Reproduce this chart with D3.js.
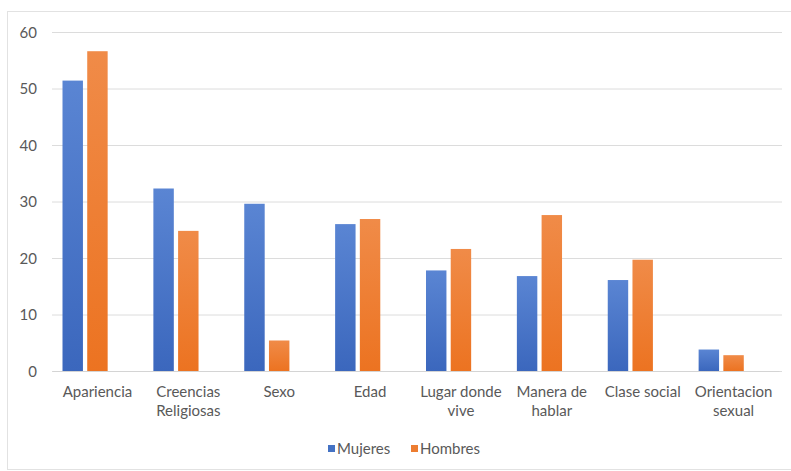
<!DOCTYPE html>
<html>
<head>
<meta charset="utf-8">
<script src="https://cdn.jsdelivr.net/npm/d3@7"></script>
<style>
  html, body { margin: 0; padding: 0; background: #fff; }
  svg { display: block; }
  text { font-family: Lato, "Open Sans", sans-serif; fill: #595959; }
</style>
</head>
<body>
<svg id="chart" width="791" height="471"></svg>
<script>
const categories = [
  ["Apariencia"],
  ["Creencias", "Religiosas"],
  ["Sexo"],
  ["Edad"],
  ["Lugar donde", "vive"],
  ["Manera de", "hablar"],
  ["Clase social"],
  ["Orientacion", "sexual"]
];
const seriesNames = ["Mujeres", "Hombres"];
const mujeres = [51.4, 32.3, 29.6, 26.0, 17.8, 16.8, 16.1, 3.8];
const hombres = [56.6, 24.8, 5.4, 26.9, 21.6, 27.6, 19.7, 2.8];
const yTicks = [0, 10, 20, 30, 40, 50, 60];
const colors = ["#4472C4", "#ED7D31"];

const svg = d3.select("#chart");
const W = 791, H = 471;
const m = { left: 52, right: 12, top: 32, bottom: 100 };
const FS = 15;

// chart border
svg.append("rect").attr("x", 7.5).attr("y", 11.5).attr("width", W - 7).attr("height", H - 13)
  .attr("fill", "none").attr("stroke", "#e2e2e2").attr("stroke-width", 1);

const keys = categories.map(c => c.join(" "));
const x0 = d3.scaleBand().domain(keys).range([m.left, W - m.right]).paddingInner(0).paddingOuter(0);
// third slot is an empty (hidden) series slot, as in the original chart
const x1 = d3.scaleBand().domain([...seriesNames, "_"]).range([10.5, x0.bandwidth() - 10.5]).paddingInner(0.173).paddingOuter(0);
const y = d3.scaleLinear().domain([0, 60]).range([371, 32]);

// gradients
const defs = svg.append("defs");
const grads = [["#5a85d3", "#3b67bd"], ["#f08b48", "#ec7321"]];
grads.forEach((g, i) => {
  const lg = defs.append("linearGradient").attr("id", "g" + i).attr("x1", 0).attr("y1", 0).attr("x2", 0).attr("y2", 1);
  lg.append("stop").attr("offset", "0%").attr("stop-color", g[0]);
  lg.append("stop").attr("offset", "100%").attr("stop-color", g[1]);
});

// gridlines
const yAxis = d3.axisLeft(y).tickValues(yTicks).tickSize(-(W - m.right - m.left + 3)).tickPadding(15);
const gy = svg.append("g").attr("transform", `translate(${m.left},0)`).call(yAxis);
gy.select(".domain").remove();
gy.selectAll(".tick line").attr("stroke", "#dcdcdc").attr("stroke-width", 1);
gy.selectAll(".tick text").attr("font-size", FS).attr("fill", "#595959").attr("dy", "0.34em");

// bars
const data = keys.map((k, i) => ({ key: k, vals: [mujeres[i], hombres[i]] }));
const groups = svg.append("g").selectAll("g").data(data).join("g")
  .attr("transform", d => `translate(${x0(d.key)},0)`);
groups.selectAll("rect").data(d => d.vals.map((v, j) => ({ s: seriesNames[j], v, j }))).join("rect")
  .attr("x", d => x1(d.s))
  .attr("width", x1.bandwidth())
  .attr("y", d => y(d.v))
  .attr("height", d => y(0) - y(d.v))
  .attr("fill", d => `url(#g${d.j})`);

// x axis
const xAxis = d3.axisBottom(x0).tickSize(0).tickFormat(() => "");
const gx = svg.append("g").attr("transform", `translate(0,${y(0)})`).call(xAxis);
gx.select(".domain").attr("stroke", "#d4d4d4");
gx.selectAll(".tick").each(function(d, i) {
  const t = d3.select(this).append("text").attr("text-anchor", "middle").attr("font-size", FS).attr("fill", "#595959");
  categories[i].forEach((line, li) => {
    t.append("tspan").attr("x", 0).attr("y", 26 + li * 19).text(line);
  });
});

// legend
const legend = svg.append("g").attr("transform", "translate(328,449)");
const lx = [0, 83];
seriesNames.forEach((s, i) => {
  const g = legend.append("g").attr("transform", `translate(${lx[i]},0)`);
  g.append("rect").attr("x", 0).attr("y", -4).attr("width", 7).attr("height", 7).attr("fill", colors[i]);
  g.append("text").attr("x", 9).attr("y", 0).attr("dy", "0.35em").attr("font-size", FS).attr("fill", "#595959").text(s);
});
</script>
</body>
</html>
